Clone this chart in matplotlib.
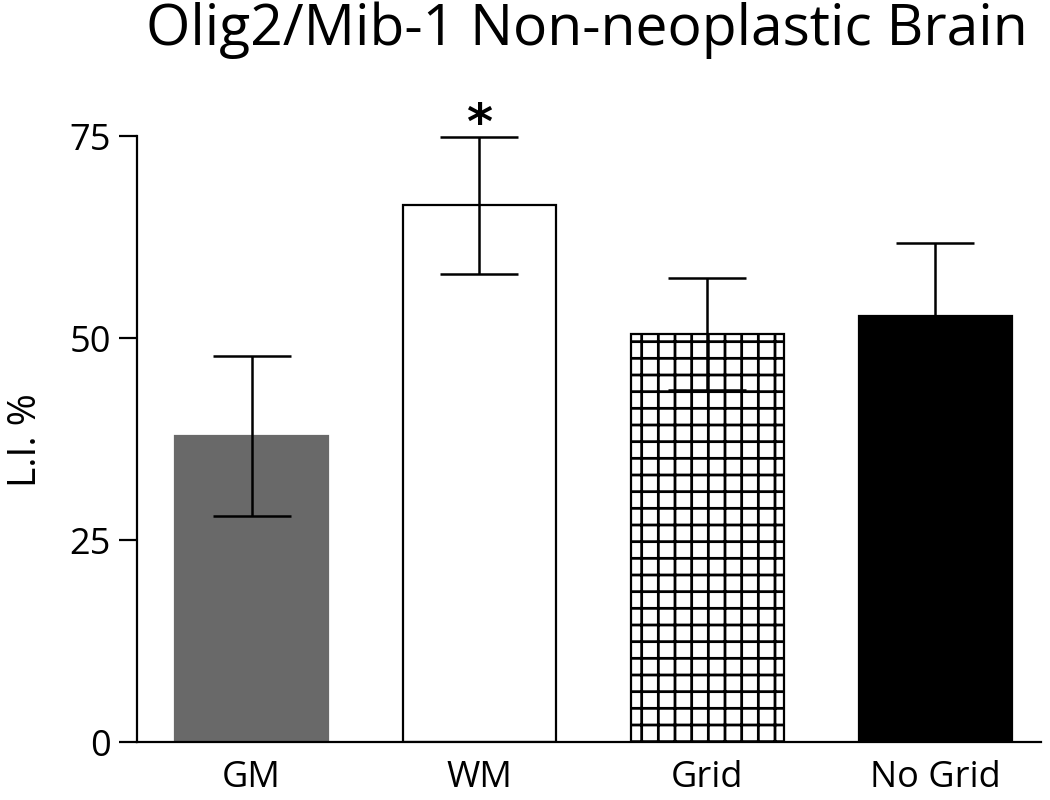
import matplotlib
matplotlib.use("Agg")
import matplotlib.pyplot as plt

categories = ["GM", "WM", "Grid", "No Grid"]
means = [37.9, 66.4, 50.5, 52.7]
errors = [9.9, 8.5, 6.9, 9.1]
yticks = [0, 25, 50, 75]
title = "Olig2/Mib-1 Non-neoplastic Brain"
ylabel = "L.I. %"

plt.rcParams['font.family'] = ['Open Sans', 'DejaVu Sans']
plt.rcParams['hatch.linewidth'] = 2.0

fig = plt.figure(figsize=(10.5, 8), dpi=100)
ax = fig.add_axes([0.1305, 0.0725, 0.8605, 0.7575])

x = list(range(len(categories)))
faces = ["#696969", "white", "white", "black"]
edges = ["#696969", "black", "black", "black"]
hatches = [None, None, "+", None]
for xi, m, fc, ec, h in zip(x, means, faces, edges, hatches):
    ax.bar(xi, m, width=0.672, color=fc, edgecolor=ec, linewidth=1.6, hatch=h, zorder=2)

ax.errorbar(x, means, yerr=errors, fmt='none', ecolor='black', elinewidth=1.8,
            capsize=28, capthick=1.8, zorder=3)

ax.text(1, 76.3, "*", ha='center', va='center', fontsize=36, fontweight='bold',
        fontfamily='DejaVu Sans')

ax.set_xlim(-0.503, 3.463)
ax.set_ylim(0, 75)
ax.set_yticks(yticks)
ax.set_xticks(x)
ax.set_xticklabels(categories)
ax.tick_params(axis='y', length=13, width=1.6, pad=6, labelsize=26)
ax.tick_params(axis='x', length=0, pad=13, labelsize=26)
for s in ['top', 'right']:
    ax.spines[s].set_visible(False)
for s in ['left', 'bottom']:
    ax.spines[s].set_linewidth(1.6)

fig.text(0.025, 0.45, ylabel, rotation=90, ha='center', va='center', fontsize=28)
fig.text(0.559, 1 - 45 / 800, title, ha='center', va='baseline', fontsize=41)

fig.savefig("out.png", dpi=100)
